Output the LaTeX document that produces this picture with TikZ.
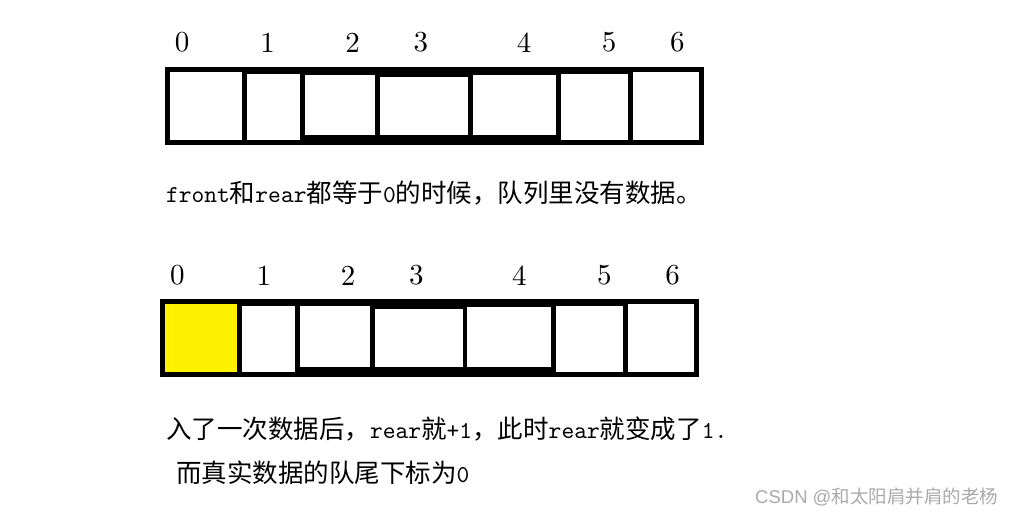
\documentclass[tikz,border=0pt]{standalone}
\usepackage{fontspec}
\usetikzlibrary{fit}
\newfontfamily\cjk{Noto Sans CJK SC}
\newfontfamily\latfont{lmmono10-regular}[Extension=.otf]
\newfontfamily\idxfont{lmroman10-regular}[Extension=.otf]
\newfontfamily\wmfont{Liberation Sans}
\newcommand\lt[1]{{\latfont\fontsize{24.3}{24.3}\selectfont #1}}
\definecolor{cellyellow}{RGB}{255,242,0}
\definecolor{wmgray}{RGB}{170,170,170}
\begin{document}
\begin{tikzpicture}[x=1pt,y=-1pt,
  frame/.style={fill=black, draw=none, inner sep=0, outer sep=0},
  cell/.style={fill=white, draw=none, inner sep=0, outer sep=0},
  idx/.style={font=\idxfont\fontsize{29}{29}\selectfont, inner sep=0},
  txt/.style={font=\cjk\fontsize{25.5}{25.5}\selectfont, inner sep=0, anchor=west},
  wm/.style={font=\cjk\fontsize{18.5}{18.5}\selectfont, text=wmgray, inner sep=0, anchor=west}]
\useasboundingbox[fill=white] (0,0) rectangle (1021,516);

% top array
\node[frame, fit={(165,66.7) (704.3,145)}] (topframe) {};
\foreach \n/\a/\b/\c/\d in {0/170/71.7/242.3/140, 1/247/74/300/140, 2/305/75/375/135,
  3/380/77.3/468.3/135, 4/472.7/75/556/135, 5/561/74/628.3/140, 6/632.7/71.7/699.3/140}
  \node[cell, fit={(\a,\b) (\c,\d)}] (t\n) {};
\foreach \n/\x in {0/182, 1/267.5, 2/352.6, 3/420.8, 4/524, 5/609, 6/677.4}
  \node[idx] (lt\n) at (\x,42.5) {\n};

% bottom array
\node[frame, fit={(160,299) (699.3,377)}] (botframe) {};
\foreach \n/\a/\b/\c/\d/\f in {0/165/304/237.3/372/cellyellow, 1/242/305.7/295/372/white,
  2/300/306.3/370/367/white, 3/375/309/463.3/367/white, 4/467.3/307/551/367/white,
  5/556/305.7/623.3/372/white, 6/627.7/304/694.3/372/white}
  \node[cell, fill=\f, fit={(\a,\b) (\c,\d)}] (b\n) {};
\foreach \n/\x in {0/177.4, 1/263.9, 2/348, 3/416.4, 4/519.3, 5/604.4, 6/672.6}
  \node[idx] (lb\n) at (\x,275.5) {\n};

% texts
\node[txt] (line1) at (166,193) {\lt{front}和\lt{rear}都等于\lt{0}的时候，队列里没有数据。};
\node[txt] (line2) at (166,429) {入了一次数据后，\lt{rear}就\lt{+1}，此时\lt{rear}就变成了\lt{1.}};
\node[txt] (line3) at (176,473) {而真实数据的队尾下标为\lt{0}};
\node[wm] (mark) at (755,497) {{\wmfont CSDN @}和太阳肩并肩的老杨};
\end{tikzpicture}
\end{document}
